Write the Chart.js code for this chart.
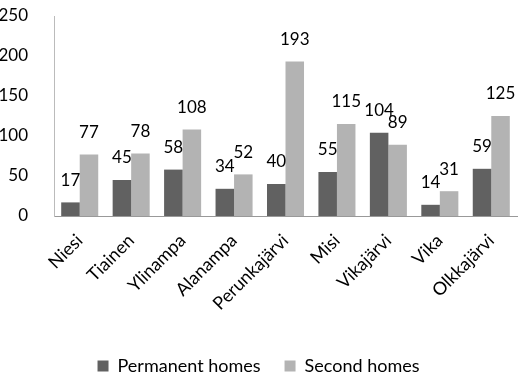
<!DOCTYPE html>
<html>
<head>
<meta charset="utf-8">
<script src="https://cdn.jsdelivr.net/npm/chart.js@4/dist/chart.umd.min.js"></script>
<style>
  html, body { margin: 0; padding: 0; background: #fff; }
  #wrap { width: 519px; height: 379px; }
</style>
</head>
<body>
<div id="wrap"><canvas id="chart" width="519" height="379"></canvas></div>
<script>
// Kylät ja asuntojen määrät
const villages = ['Niesi', 'Tiainen', 'Ylinampa', 'Alanampa', 'Perunkajärvi', 'Misi', 'Vikajärvi', 'Vika', 'Olkkajärvi'];
const permanentHomes = [17, 45, 58, 34, 40, 55, 104, 14, 59];
const secondHomes = [77, 78, 108, 52, 193, 115, 89, 31, 125];
const yTicks = [0, 50, 100, 150, 200, 250];

const FONT = 'Lato, "Open Sans", sans-serif';
Chart.defaults.font.family = FONT;
Chart.defaults.font.size = 17;
Chart.defaults.color = '#000';

// Arvot pylväiden yläpuolelle
const valueLabels = {
  id: 'valueLabels',
  afterDatasetsDraw(chart) {
    const ctx = chart.ctx;
    ctx.save();
    ctx.font = '17px ' + FONT;
    ctx.fillStyle = '#000';
    ctx.textAlign = 'center';
    ctx.textBaseline = 'middle';
    chart.data.datasets.forEach((ds, i) => {
      chart.getDatasetMeta(i).data.forEach((bar, j) => {
        ctx.fillText(String(ds.data[j]), bar.x, bar.y - 22);
      });
    });
    ctx.restore();
  }
};

new Chart(document.getElementById('chart'), {
  type: 'bar',
  data: {
    labels: villages,
    datasets: [
      {
        label: 'Permanent homes',
        data: permanentHomes,
        backgroundColor: '#616161',
        categoryPercentage: 0.72,
        barPercentage: 1.0
      },
      {
        label: 'Second homes',
        data: secondHomes,
        backgroundColor: '#b3b3b3',
        categoryPercentage: 0.72,
        barPercentage: 1.0
      }
    ]
  },
  options: {
    responsive: false,
    animation: false,
    layout: { padding: { top: 16, right: 2, left: 0, bottom: 0 } },
    scales: {
      x: {
        grid: { display: false },
        border: { display: true, color: '#999', width: 1 },
        ticks: { minRotation: 45, maxRotation: 45, padding: 6, autoSkip: false, font: { size: 18 } },
        afterFit(scale) {
          scale.height = 117;
          scale.paddingLeft = 0;
          scale.paddingRight = 0;
        }
      },
      y: {
        min: 0,
        max: 250,
        grid: { display: false },
        border: { display: true, color: '#bbb', width: 1 },
        afterBuildTicks(scale) { scale.ticks = yTicks.map(v => ({ value: v })); },
        ticks: { padding: 18 },
        afterFit(scale) {
          scale.width = 54;
          scale.paddingTop = 0;
          scale.paddingBottom = 0;
        }
      }
    },
    plugins: {
      legend: {
        position: 'bottom',
        maxHeight: 46,
        labels: { boxWidth: 11, boxHeight: 11, padding: 24, color: '#000', font: { size: 18 } }
      },
      tooltip: { enabled: false }
    }
  },
  plugins: [valueLabels]
});
</script>
</body>
</html>
